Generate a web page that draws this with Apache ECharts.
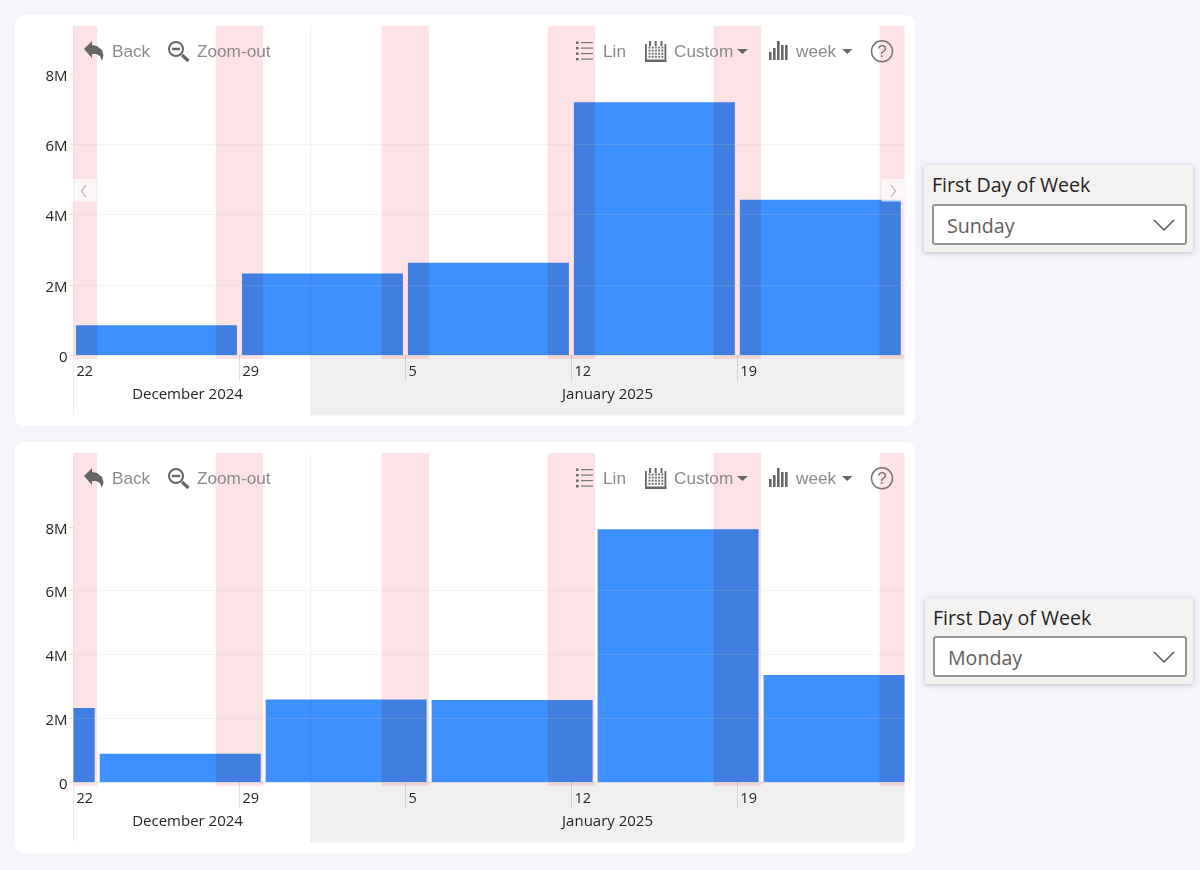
<!DOCTYPE html>
<html>
<head>
<meta charset="utf-8">
<script src="https://cdn.jsdelivr.net/npm/echarts@6/dist/echarts.min.js"></script>
<style>
  html, body { margin: 0; padding: 0; background: #f4f5fa; width: 1200px; height: 870px; overflow: hidden; }
  .card { position: absolute; left: 15px; width: 900px; height: 411px; background: #fff; border-radius: 9px; }
  #main { position: absolute; left: 0; top: 0; width: 915px; height: 870px; }
  .slicer { position: absolute; background: #f3f2f1; box-shadow: 0 1px 5px rgba(0,0,0,.22); font-family: "Open Sans", sans-serif; }
  .slicer .title { position: absolute; left: 8px; top: 6px; font-size: 19.6px; line-height: 28px; color: #252423; white-space: nowrap; }
  .slicer .box { position: absolute; left: 8px; right: 6px; height: 37px; background: #fff; border: 2px solid #979593; border-radius: 3px; }
  .slicer .box span { position: absolute; left: 13px; top: 6px; font-size: 19.6px; line-height: 28px; color: #605e5c; }
  .slicer svg { position: absolute; right: 10px; top: 13px; }
</style>
</head>
<body>
<div class="card" style="top:15px"></div>
<div class="card" style="top:442px"></div>
<div id="main"></div>
<div class="slicer" style="left:924px;top:165px;width:269px;height:87px">
  <div class="title">First Day of Week</div>
  <div class="box" style="top:39px"><span>Sunday</span>
    <svg width="22" height="12"><polyline points="1,1 11,11 21,1" fill="none" stroke="#605e5c" stroke-width="1.6"/></svg></div>
</div>
<div class="slicer" style="left:925px;top:598px;width:268px;height:86px">
  <div class="title">First Day of Week</div>
  <div class="box" style="top:38px"><span>Monday</span>
    <svg width="22" height="12"><polyline points="1,1 11,11 21,1" fill="none" stroke="#605e5c" stroke-width="1.6"/></svg></div>
</div>
<script>
// data
var axisStart = '2024-12-22';
var sundayWeeks = ['2024-12-22', '2024-12-29', '2025-01-05', '2025-01-12', '2025-01-19'];
var sundayValues = [850000, 2320000, 2630000, 7200000, 4420000];
var mondayWeeks = ['2024-12-16', '2024-12-23', '2024-12-30', '2025-01-06', '2025-01-13', '2025-01-20'];
var mondayValues = [2320000, 890000, 2590000, 2570000, 7930000, 3360000];
var weekendStarts = ['2024-12-21', '2024-12-28', '2025-01-04', '2025-01-11', '2025-01-18', '2025-01-25'];
var dayTicks = ['2024-12-22', '2024-12-29', '2025-01-05', '2025-01-12', '2025-01-19'];
var dayLabels = ['22', '29', '5', '12', '19'];
var monthStarts = ['2024-12-01', '2025-01-01'];
var monthEnds = ['2025-01-01', '2025-02-01'];
var monthNames = ['December 2024', 'January 2025'];
var yTicks = [0, 2000000, 4000000, 6000000, 8000000];

var xMax = 35.05;
var yMaxes = [9370000, 10320000];
var monthLabelShift = [-4.5, 0];

var myChart = echarts.init(document.getElementById('main'));

function dayIndex(d) {
  return (Date.parse(d) - Date.parse(axisStart)) / 86400000;
}

function clampDay(v) {
  return Math.max(0, Math.min(xMax, v));
}

function rows(starts, len, values) {
  return starts.map(function (d, i) {
    return [dayIndex(d), dayIndex(d) + len, values ? values[i] : 0];
  });
}

// bar plus the darker parts where a weekend runs through it
function renderBar(params, api) {
  var a = api.value(0), b = api.value(1);
  var x0 = api.coord([clampDay(a), 0]);
  var x1 = api.coord([clampDay(b), 0]);
  var top = api.coord([0, api.value(2)])[1];
  var left = a < 0 ? x0[0] : x0[0] + 2.5;
  var right = b > xMax ? x1[0] : x1[0] - 2.5;
  var kids = [{
    type: 'rect',
    shape: { x: left, y: top, width: right - left, height: x0[1] - top },
    style: { fill: '#3f90ff' }
  }];
  weekendStarts.forEach(function (d) {
    var s = api.coord([clampDay(dayIndex(d)), 0])[0];
    var e = api.coord([clampDay(dayIndex(d) + 2), 0])[0];
    s = Math.max(s, left);
    e = Math.min(e, right);
    if (e > s) {
      kids.push({
        type: 'rect',
        shape: { x: s, y: top, width: e - s, height: x0[1] - top },
        style: { fill: 'rgba(72,0,0,0.12)' }
      });
    }
  });
  return { type: 'group', children: kids };
}

function renderWeekend(params, api) {
  var x0 = api.coord([clampDay(api.value(0)), 0])[0];
  var x1 = api.coord([clampDay(api.value(1)), 0])[0];
  var cs = params.coordSys;
  return {
    type: 'rect',
    shape: { x: x0, y: cs.y, width: x1 - x0, height: cs.height + 4 },
    style: { fill: 'rgba(240,0,20,0.108)' }
  };
}

function renderMonth(params, api) {
  var i = params.dataIndex;
  var x0 = api.coord([clampDay(api.value(0)), 0])[0];
  var x1 = api.coord([clampDay(api.value(1)), 0])[0];
  var cs = params.coordSys;
  var base = cs.y + cs.height;
  var kids = [{
    type: 'line',
    shape: { x1: x0, y1: cs.y, x2: x0, y2: base + 60.5 },
    style: { stroke: 'rgba(0,0,0,0.07)', lineWidth: 1 }
  }, {
    type: 'text',
    style: {
      text: monthNames[i],
      x: (x0 + x1) / 2 + monthLabelShift[i],
      y: base + 40,
      align: 'center',
      verticalAlign: 'middle',
      fill: '#252423',
      font: '15px "Open Sans"'
    }
  }];
  if (i % 2 == 1) {
    kids.unshift({
      type: 'rect',
      shape: { x: x0, y: base, width: x1 - x0, height: 60.5 },
      style: { fill: 'rgba(0,0,0,0.059)' }
    });
  }
  return { type: 'group', children: kids };
}

function fmtY(v) {
  return v == 0 ? '0' : v / 1000000 + 'M';
}

var grids = [
  { left: 73.5, width: 831, top: 26, height: 329 },
  { left: 73.5, width: 831, top: 453, height: 329 }
];

function makeX(i) {
  return {
    type: 'value', gridIndex: i, min: 0, max: xMax, interval: 7, z: 5,
    axisLine: { show: true, lineStyle: { color: 'rgba(200,200,200,0.3)' } },
    axisTick: { show: true, length: 26, customValues: dayTicks.slice(1).map(dayIndex), lineStyle: { color: 'rgba(0,0,0,0.12)' } },
    axisLabel: {
      margin: 9, align: 'left', padding: [0, 0, 0, 3], color: '#252423',
      fontFamily: 'Open Sans', fontSize: 14.5,
      customValues: dayTicks.map(dayIndex),
      formatter: function (v) { return dayLabels[dayTicks.map(dayIndex).indexOf(v)]; }
    },
    splitLine: { show: false }
  };
}

function makeY(i) {
  return {
    type: 'value', gridIndex: i, min: 0, max: yMaxes[i], interval: 2000000, z: 5,
    axisLine: { show: false },
    axisTick: { show: true, length: 4, customValues: yTicks, lineStyle: { color: '#ddd' } },
    axisLabel: {
      margin: 6, verticalAlign: 'top', lineHeight: 5, color: '#252423', fontFamily: 'Open Sans', fontSize: 15,
      customValues: yTicks, formatter: fmtY
    },
    splitLine: { show: true, showMaxLine: false, lineStyle: { color: 'rgba(200,200,200,0.2)' } }
  };
}

function makeSeries(i, weeks, values) {
  return [
    { type: 'custom', xAxisIndex: i, yAxisIndex: i, z: 1, silent: true, renderItem: renderWeekend,
      encode: { x: [0, 1], y: 2 }, data: rows(weekendStarts, 2) },
    { type: 'custom', xAxisIndex: i, yAxisIndex: i, z: 2, silent: true, renderItem: renderBar,
      encode: { x: [0, 1], y: 2 }, data: rows(weeks, 7, values) },
    { type: 'custom', xAxisIndex: i, yAxisIndex: i, z: 4, silent: true, renderItem: renderMonth,
      encode: { x: [0, 1], y: 2 }, data: monthStarts.map(function (d, k) { return [dayIndex(d), dayIndex(monthEnds[k]), 0]; }) }
  ];
}

// toolbar drawn on top of each plot
function toolbar(dy) {
  var ic = '#666', tx = '#8a8a8a', out = [];
  function add(o) { o.z = 10; out.push(o); }
  function label(s, x) {
    add({ type: 'text', style: { text: s, x: x, y: 52 + dy, verticalAlign: 'middle', fill: tx, font: '17.2px "Liberation Sans"' } });
  }
  function rect(x, y, w, h, fill) {
    add({ type: 'rect', shape: { x: x, y: y + dy, width: w, height: h }, style: { fill: fill || ic } });
  }
  function tri(x, w) {
    add({ type: 'polygon', shape: { points: [[x, 49 + dy], [x + w, 49 + dy], [x + w / 2, 54 + dy]] }, style: { fill: ic } });
  }
  // back
  add({ type: 'polygon', shape: { points: [[84, 49], [92, 41], [92, 45], [97, 46], [102, 50], [103.5, 55], [102, 61], [100, 56], [96, 54], [92, 54], [92, 58]].map(function (p) { return [p[0], p[1] + dy]; }) }, style: { fill: ic } });
  label('Back', 112);
  // zoom-out
  add({ type: 'circle', shape: { cx: 176, cy: 49 + dy, r: 7 }, style: { fill: 'none', stroke: ic, lineWidth: 2 } });
  add({ type: 'line', shape: { x1: 172, y1: 49 + dy, x2: 180, y2: 49 + dy }, style: { stroke: ic, lineWidth: 2.4 } });
  add({ type: 'line', shape: { x1: 182, y1: 55 + dy, x2: 188.5, y2: 61 + dy }, style: { stroke: ic, lineWidth: 3.2 } });
  label('Zoom-out', 197);
  // lin
  [42, 47.5, 53, 58.5].forEach(function (y) {
    rect(576, y - 0.5, 2.6, 2.4);
    rect(581, y, 12, 1.2, '#777');
  });
  label('Lin', 603);
  // calendar
  rect(645, 44, 1.8, 18);
  rect(664.5, 44, 1.8, 18);
  rect(645, 59.5, 21.3, 2.5);
  rect(649, 41, 2, 5);
  rect(660.5, 41, 2, 5);
  rect(654.7, 41, 2, 5);
  for (var r = 0; r < 4; r++) {
    for (var c = 0; c < 5; c++) {
      rect(648.5 + c * 3.2, 46.5 + r * 3.1, 2, 2, '#777');
    }
  }
  label('Custom', 674);
  tri(737, 11);
  // bars
  [[769, 52], [773, 48], [777, 41], [781, 45], [785, 45]].forEach(function (b) {
    rect(b[0], b[1], 2.6, 60 - b[1]);
  });
  label('week', 796);
  tri(842, 10.5);
  // help
  add({ type: 'circle', shape: { cx: 882, cy: 51.3 + dy, r: 10.5 }, style: { fill: 'none', stroke: '#777', lineWidth: 1.5 } });
  add({ type: 'text', style: { text: '?', x: 882, y: 52 + dy, align: 'center', verticalAlign: 'middle', fill: '#777', font: '17px "Liberation Sans"' } });
  return out;
}

function pager() {
  var wash = 'rgba(255,255,255,0.7)', line = '#999';
  return [
    { type: 'rect', z: 10, shape: { x: 73.5, y: 179, width: 23, height: 22.5 }, style: { fill: wash } },
    { type: 'polyline', z: 10, shape: { points: [[86, 185], [81.5, 191], [86, 197]] }, style: { fill: 'none', stroke: line } },
    { type: 'rect', z: 10, shape: { x: 881.5, y: 179, width: 23, height: 22.5 }, style: { fill: wash } },
    { type: 'polyline', z: 10, shape: { points: [[891, 185], [895.5, 191], [891, 197]] }, style: { fill: 'none', stroke: line } }
  ];
}

var option = {
  animation: false,
  backgroundColor: 'transparent',
  grid: grids,
  xAxis: [makeX(0), makeX(1)],
  yAxis: [makeY(0), makeY(1)],
  series: makeSeries(0, sundayWeeks, sundayValues).concat(makeSeries(1, mondayWeeks, mondayValues)),
  graphic: { elements: toolbar(0).concat(toolbar(427)).concat(pager()) }
};
myChart.setOption(option);
</script>
</body>
</html>
